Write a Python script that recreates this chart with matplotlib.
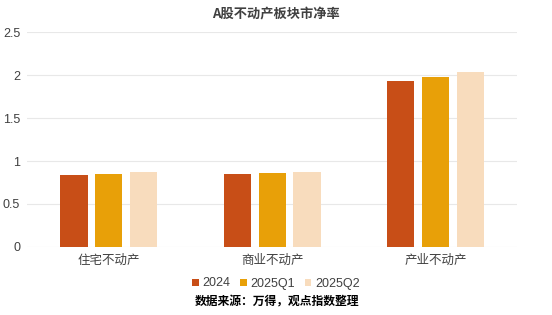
import matplotlib.pyplot as plt
import numpy as np

plt.rcParams['font.family'] = ['Noto Sans CJK SC', 'DejaVu Sans']

categories = ['住宅不动产', '商业不动产', '产业不动产']
series = ['2024', '2025Q1', '2025Q2']
values_2024 = [0.84, 0.85, 1.93]
values_q1 = [0.85, 0.86, 1.98]
values_q2 = [0.87, 0.87, 2.04]
colors = ['#C84E17', '#E8A008', '#F8DCBD']

fig = plt.figure(figsize=(5.52, 3.15), dpi=100)
ax = fig.add_axes([0.049, 0.216, 0.888, 0.682])

x = np.arange(len(categories))
width = 0.166
step = 0.213
for i, (name, vals) in enumerate(zip(series, [values_2024, values_q1, values_q2])):
    ax.bar(x + (i - 1) * step, vals, width, color=colors[i], label=name, zorder=3)

ax.set_xlim(-0.5, 2.5)
ax.set_ylim(0, 2.5)
ax.set_yticks([0, 0.5, 1, 1.5, 2, 2.5])
ax.set_yticklabels(['0', '0.5', '1', '1.5', '2', '2.5'],
                   family=['Liberation Sans', 'DejaVu Sans'])
ax.set_xticks(x)
ax.set_xticklabels(categories)
ax.grid(axis='y', color='#E8E8E8', linewidth=0.8, zorder=0)
for s in ax.spines.values():
    s.set_visible(False)
ax.tick_params(length=0, labelsize=9, colors='#404040')
ax.tick_params(axis='y', pad=5)
ax.tick_params(axis='x', pad=5)

fig.text(0.5, 0.955, 'A股不动产板块市净率', ha='center', va='center',
         fontsize=9.5, color='#404040', fontweight='bold')
fig.legend(loc='center', bbox_to_anchor=(0.5, 0.1), ncol=3, frameon=False,
           prop={'family': ['Liberation Sans', 'DejaVu Sans'], 'size': 9},
           handlelength=0.5, handleheight=0.5, handletextpad=0.3,
           columnspacing=0.8, labelcolor='#404040')
fig.text(0.353, 0.04, '数据来源：万得，观点指数整理', ha='left', va='center',
         fontsize=8.5, color='black', fontweight='bold')

plt.savefig('out.png', dpi=100)
plt.close()
